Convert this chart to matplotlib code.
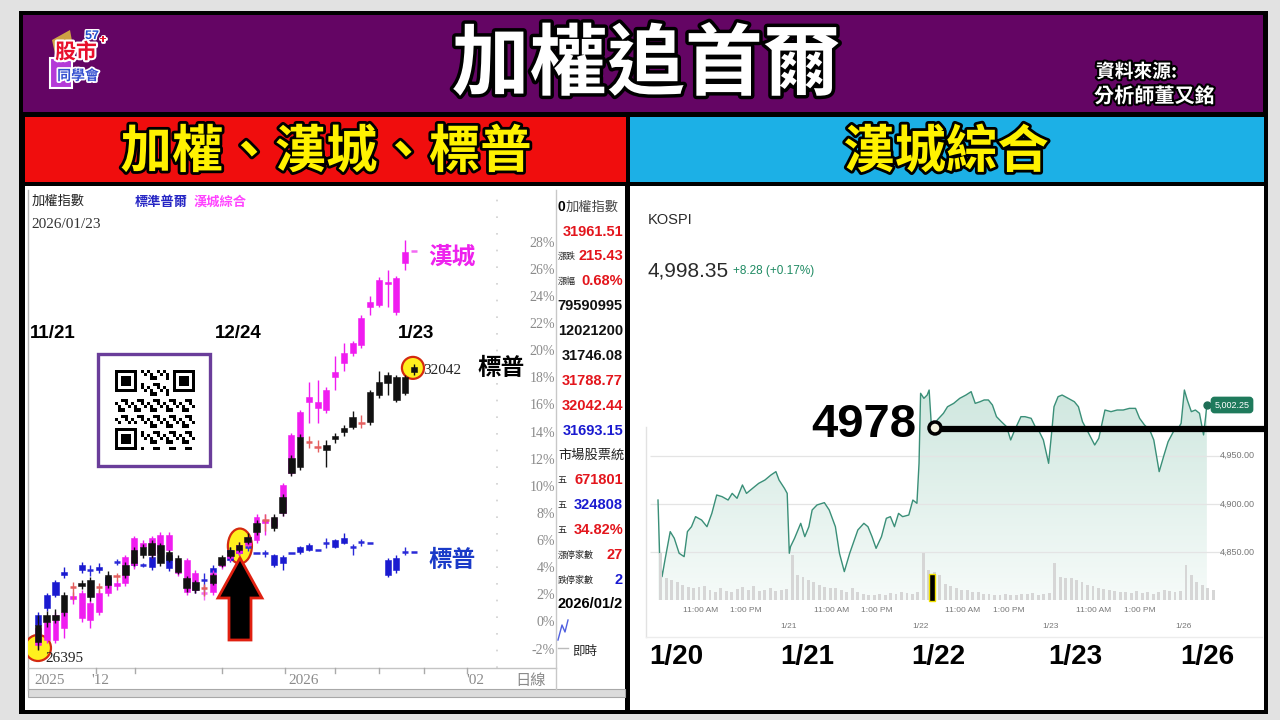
import numpy as np
import matplotlib
matplotlib.use('Agg')
import matplotlib.pyplot as plt
from matplotlib.patches import Rectangle, Ellipse, Polygon, Circle
import matplotlib.patheffects as pe
from matplotlib.colors import LinearSegmentedColormap

plt.rcParams['font.family'] = ['Noto Sans CJK TC', 'DejaVu Sans']
CJK = ['Noto Sans CJK TC', 'DejaVu Sans']
NARROW = ['Liberation Sans', 'DejaVu Sans']
SERIF = ['Liberation Serif', 'DejaVu Serif']
nan = np.nan

# ---------------- left chart: daily candles, % change ----------------
taiex_open = [-1.4, 0.05, 0.2, 0.8, 2.65, 2.7, 1.9, 2.65, 2.8, 3.45, 3.55, 4.4, 5.0, 5.0, 4.4, 4.65, 3.75, 2.6, 2.4, 2.6,
              2.95, 4.25, 4.95, 5.4, 6.0, 6.7, 7.6, 7.0, 8.1, 11.05, 11.5, 13.35, 13.0, 12.75, 13.55, 14.05, 14.45, 14.75,
              14.8, 16.8, 17.7, 16.45, 16.95, 18.5]
taiex_close = [-0.15, 0.6, 0.6, 2.05, 2.65, 2.95, 3.15, 2.65, 3.55, 3.45, 4.25, 5.4, 5.6, 5.9, 5.75, 5.2, 4.8, 3.3, 3.0, 2.6,
               3.55, 4.85, 5.4, 5.75, 6.35, 7.35, 7.6, 7.8, 9.3, 12.15, 13.7, 13.35, 13.0, 13.1, 13.8, 14.35, 15.2, 14.75,
               17.0, 17.75, 18.3, 18.15, 18.15, 18.85]
taiex_high = [0.6, 0.9, 1.0, 2.3, 3.0, 3.2, 3.4, 2.95, 3.8, 3.7, 4.5, 5.6, 5.8, 6.1, 5.9, 5.4, 5.0, 3.5, 3.2, 2.9,
              3.7, 5.0, 5.6, 6.0, 6.6, 7.6, 8.0, 8.0, 9.5, 12.4, 13.9, 13.8, 13.5, 13.5, 14.0, 14.6, 15.6, 15.3,
              17.2, 18.6, 18.5, 18.3, 18.3, 19.1]
taiex_low = [-2.0, -0.3, 0.0, 0.5, 1.7, 2.5, 1.6, 2.2, 2.6, 3.1, 3.3, 4.2, 4.8, 4.8, 4.2, 4.5, 3.6, 2.3, 2.2, 2.0,
             2.8, 4.1, 4.8, 5.2, 5.8, 6.5, 6.8, 6.8, 7.9, 10.8, 11.3, 12.9, 12.6, 11.5, 13.3, 13.8, 14.3, 14.4,
             14.6, 16.6, 16.8, 16.3, 16.8, 18.3]

kospi_open = [-1.6, -1.25, -1.25, -0.35, 1.75, 0.35, 0.2, 0.8, 2.2, 2.7, 2.95, 4.25, 5.6, 5.0, 5.15, 5.4, 3.7, 2.3, 2.4, 2.2,
              2.3, 4.2, 4.8, 5.15, 5.75, 6.1, 7.35, 7.15, 8.1, 11.05, 13.7, 16.3, 15.85, 15.7, 18.15, 19.15, 19.9, 20.5,
              23.3, 23.45, 25.0, 22.9, 26.5, 27.4]
kospi_close = [-0.35, 0.05, 0.6, 0.8, 2.0, 2.2, 1.45, 2.2, 2.8, 2.95, 4.85, 6.25, 5.9, 6.25, 6.5, 6.5, 4.65, 4.65, 3.7, 2.2,
               3.7, 4.65, 5.15, 5.75, 6.35, 7.8, 7.6, 7.75, 10.15, 13.85, 15.55, 16.65, 16.3, 17.2, 18.5, 19.9, 20.6, 22.5,
               23.65, 25.3, 25.1, 25.4, 27.35, 27.4]
kospi_high = [0.0, 0.3, 0.8, 1.0, 2.3, 2.4, 1.7, 2.4, 3.0, 3.2, 5.0, 6.4, 6.1, 6.4, 6.7, 6.7, 4.8, 4.8, 3.9, 2.8,
              3.9, 4.8, 5.3, 6.0, 6.5, 8.0, 8.0, 7.9, 10.3, 14.0, 15.7, 17.75, 17.9, 17.4, 19.7, 20.6, 20.8, 22.7,
              24.1, 25.5, 26.0, 25.6, 28.2, 27.4]
kospi_low = [-1.9, -1.5, -1.5, -1.1, 1.4, 0.1, -0.35, 0.6, 2.0, 2.4, 2.7, 4.0, 5.4, 4.8, 5.0, 5.2, 3.5, 2.1, 2.2, 1.7,
             2.1, 4.0, 4.6, 5.0, 5.6, 5.9, 6.5, 7.0, 7.9, 10.9, 13.5, 14.75, 14.75, 15.5, 17.2, 18.6, 19.7, 20.3,
             22.7, 23.3, 23.3, 22.7, 26.0, 27.4]

sp_open = [-0.15, 1.1, 2.05, 3.55, nan, 3.9, 3.9, 3.9, 2.8, 4.5, nan, 4.25, 4.25, 4.1, nan, 4.05, nan, nan, 2.4, 3.15,
           3.75, nan, 4.65, 5.15, 5.6, 5.15, 5.15, 4.25, 4.4, 5.15, 5.25, 5.4, 5.4, 5.9, 5.6, 5.9, 5.6, 5.95,
           5.9, nan, 3.55, 3.9, 5.25, 5.25]
sp_close = [0.6, 2.05, 3.0, 3.75, nan, 4.25, 3.9, 4.1, 3.4, 4.5, nan, 4.85, 4.25, 4.85, nan, 5.0, nan, nan, 2.8, 3.15,
            4.05, nan, 5.4, 5.3, 5.6, 5.15, 5.15, 5.0, 4.85, 5.15, 5.6, 5.75, 5.4, 5.9, 6.1, 6.25, 5.6, 5.95,
            5.9, nan, 4.65, 4.8, 5.25, 5.25]
sp_high = [0.8, 2.2, 3.2, 4.1, nan, 4.5, 4.3, 4.4, 3.6, 4.7, nan, 5.0, 4.4, 5.0, nan, 5.2, nan, nan, 3.0, 3.7,
           4.3, nan, 5.6, 5.5, 5.8, 5.15, 5.4, 5.1, 5.0, 5.15, 5.7, 5.9, 5.4, 6.3, 6.2, 6.6, 5.8, 6.2,
           5.9, nan, 4.8, 5.0, 5.6, 5.25]
sp_low = [-0.3, 0.9, 1.9, 3.3, nan, 3.7, 3.5, 3.7, 2.6, 4.3, nan, 4.1, 4.1, 3.9, nan, 3.8, nan, nan, 2.2, 2.1,
          3.6, nan, 4.5, 5.0, 5.3, 5.15, 4.9, 4.1, 3.9, 5.15, 5.1, 5.3, 5.4, 5.5, 5.5, 5.8, 5.0, 5.7,
          5.9, nan, 3.4, 3.7, 5.0, 5.25]

pct_ticks = [-2, 0, 2, 4, 6, 8, 10, 12, 14, 16, 18, 20, 22, 24, 26, 28]

panel_rows = [('', '31961.51', '#e3151c'), ('漲跌', '215.43', '#e3151c'), ('漲幅', '0.68%', '#e3151c'),
              ('', '79590995', '#111111'), ('', '12021200', '#111111'), ('', '31746.08', '#111111'),
              ('', '31788.77', '#e3151c'), ('', '32042.44', '#e3151c'), ('', '31693.15', '#1a1ad0'),
              ('市場股票統', '', '#111111'), ('五', '671801', '#e3151c'), ('五', '324808', '#1a1ad0'),
              ('五', '34.82%', '#e3151c'), ('漲停家數', '27', '#e3151c'), ('跌停家數', '2', '#1a1ad0')]

# ---------------- right chart: KOSPI intraday ----------------
kospi_t = [0.000, 0.012, 0.031, 0.053, 0.093, 0.124, 0.161, 0.199, 0.224, 0.255, 0.286, 0.332, 0.373, 0.410, 0.447,
           0.488, 0.534, 0.565, 0.602, 0.643, 0.674, 0.720, 0.767, 0.814, 0.860, 0.898, 0.922, 0.963, 0.984,
           1.000, 1.009, 1.040, 1.087, 1.118, 1.149, 1.174, 1.211, 1.267, 1.304, 1.351, 1.382, 1.419, 1.460, 1.522,
           1.568, 1.599, 1.630, 1.661, 1.702, 1.739, 1.770, 1.801, 1.832, 1.863, 1.910, 1.941, 1.972, 1.988,
           2.000, 2.025, 2.050, 2.065, 2.081, 2.096, 2.127, 2.174, 2.205, 2.252, 2.298, 2.345, 2.385, 2.416, 2.453,
           2.484, 2.516, 2.547, 2.578, 2.615, 2.655, 2.686, 2.717, 2.764, 2.795, 2.842, 2.873, 2.904, 2.935, 2.975,
           3.000, 3.016, 3.047, 3.078, 3.124, 3.171, 3.202, 3.233, 3.280, 3.326, 3.357, 3.404, 3.450, 3.497, 3.543,
           3.590, 3.637, 3.668, 3.705, 3.745, 3.776, 3.817, 3.854, 3.885, 3.932, 3.963, 3.984,
           4.009, 4.031, 4.062, 4.093, 4.124, 4.155, 4.171, 4.180]
kospi_p = [4904.1, 4849.0, 4824.8, 4842.0, 4871.4, 4864.5, 4849.0, 4845.5, 4871.4, 4876.5, 4886.9, 4883.4, 4876.5,
           4890.3, 4909.3, 4907.6, 4904.1, 4911.0, 4905.9, 4919.7, 4911.0, 4916.2, 4921.4, 4924.8, 4930.0, 4933.5,
           4924.8, 4916.2, 4911.0,
           4849.0, 4855.8, 4864.5, 4880.0, 4866.2, 4876.5, 4893.8, 4899.0, 4901.4, 4893.8, 4876.5, 4849.0, 4830.0,
           4849.0, 4873.1, 4880.0, 4876.5, 4866.2, 4854.1, 4866.2, 4885.2, 4886.9, 4876.5, 4890.3, 4886.9, 4888.6,
           4904.1, 4900.7, 4942.1,
           5014.6, 5009.4, 5012.8, 5018.0, 4983.5, 4976.6, 4987.0, 4993.9, 5000.7, 5004.2, 5009.4, 5012.8, 5016.3,
           5004.2, 5005.9, 5007.7, 5007.7, 5002.5, 4990.4, 4985.2, 4980.0, 4966.3, 4976.6, 4990.4, 4990.4, 4988.7,
           4980.0, 4974.9, 4966.3, 4942.1,
           4976.6, 5000.7, 5011.1, 5012.8, 5009.4, 5005.9, 5000.7, 4985.2, 4973.2, 4961.1, 4968.0, 4997.3, 4995.6,
           4997.3, 4997.3, 4999.0, 4999.0, 4988.7, 4981.8, 4976.6, 4966.3, 4933.5, 4950.7, 4964.5, 4976.6, 4978.3,
           4983.5,
           5018.0, 5007.7, 4995.6, 4997.3, 4993.9, 4971.5, 4990.4, 5002.5]
vol_days = [
    [47, 22, 20, 18, 15, 13, 12, 13, 14, 10, 8, 12, 9, 8, 11, 13, 10, 14, 9, 10, 12, 9, 10, 11],
    [45, 25, 23, 20, 18, 15, 13, 12, 12, 10, 8, 12, 8, 6, 5, 5, 6, 5, 7, 6, 8, 7, 6, 8],
    [47, 30, 28, 25, 16, 14, 12, 10, 10, 8, 8, 6, 6, 5, 5, 6, 5, 5, 6, 6, 7, 5, 6, 7],
    [37, 23, 22, 22, 20, 18, 15, 14, 12, 11, 10, 9, 8, 8, 7, 9, 7, 8, 6, 8, 10, 9, 8, 9],
    [35, 25, 18, 15, 12, 10],
]
price_ticks = [4950, 4900, 4850]
big_dates = ['1/20', '1/21', '1/22', '1/23', '1/26']
small_dates = ['1/21', '1/22', '1/23', '1/26']
level_4978 = 4978

W, H = 1280, 720
fig = plt.figure(figsize=(12.8, 7.2), dpi=100)
fig.patch.set_facecolor('#e2e2e2')


def px_axes(x0, y0, x1, y1, z):
    a = fig.add_axes([x0 / W, 1 - y1 / H, (x1 - x0) / W, (y1 - y0) / H])
    a.set_zorder(z)
    a.axis('off')
    return a


# ---------------- background frames ----------------
bg = px_axes(0, 0, W, H, 0)
bg.set_xlim(0, W); bg.set_ylim(H, 0)
bg.add_patch(Rectangle((19, 11), 1249, 703, fc='black', ec='none'))
bg.add_patch(Rectangle((23, 15), 1240, 97, fc='#640564', ec='none'))
bg.add_patch(Rectangle((25, 117), 601, 65, fc='#f00d0d', ec='none'))
bg.add_patch(Rectangle((630, 117), 634, 65, fc='#1cb0e6', ec='none'))
bg.add_patch(Rectangle((25, 186), 600, 524, fc='white', ec='none'))
bg.add_patch(Rectangle((630, 186), 634, 524, fc='white', ec='none'))
bg.plot([28, 28], [190, 690], color='#b5b5b5', lw=1)
bg.plot([28, 556], [668, 668], color='#c4c4c4', lw=1)
bg.add_patch(Rectangle((28, 689), 597, 8, fc='#dcdcdc', ec='#a8a8a8', lw=0.8))
bg.plot([556, 556], [190, 689], color='#c8c8c8', lw=1)
bg.plot([646, 646], [427, 637], color='#e2e2e2', lw=1)
bg.plot([646, 1262], [637, 637], color='#ececec', lw=1)

# ---------------- left candle chart ----------------
ax = px_axes(28, 190, 555, 668, 1)
x_lo, x_hi = (28 - 38) / 8.74, (555 - 38) / 8.74
y_lo, y_hi = (623 - 668) / 13.57, (623 - 190) / 13.57


def candles(o, c, h, l, col, doji_col, width, z):
    for i in range(len(o)):
        if np.isnan(o[i]):
            continue
        lo_, hi_ = min(o[i], c[i]), max(o[i], c[i])
        if h[i] > l[i]:
            ax.vlines(i, l[i], h[i], colors=col if hi_ - lo_ > 0.01 else doji_col, lw=1.0, zorder=z)
        if hi_ - lo_ > 0.01:
            ax.add_patch(Rectangle((i - width / 2, lo_), width, hi_ - lo_, fc=col, ec=col, lw=0.4, zorder=z))
        else:
            ax.hlines(hi_, i - width / 2, i + width / 2, colors=doji_col, lw=1.8, zorder=z)


ax.vlines((497 - 38) / 8.74, y_lo, y_hi, colors='#cfcfcf', lw=1.2, linestyles=(0, (1, 9)), zorder=0.5)
ax.add_patch(Ellipse((0, -1.84), 2.97, 1.92, fc='#fff01e', ec='#d42a10', lw=1.6, zorder=1))
ax.add_patch(Ellipse((23.1, 5.67), 2.75, 2.58, fc='#fff01e', ec='#d42a10', lw=1.6, zorder=1))
ax.add_patch(Ellipse((42.9, 18.8), 2.52, 1.62, fc='#fff01e', ec='#d42a10', lw=1.6, zorder=1))
candles(sp_open, sp_close, sp_high, sp_low, '#1a1ad0', '#2a2ad8', 0.7, 2)
candles(kospi_open, kospi_close, kospi_high, kospi_low, '#f01cf0', '#f36af3', 0.68, 3)
candles(taiex_open, taiex_close, taiex_high, taiex_low, '#111111', '#e46060', 0.75, 4)
for v in pct_ticks:
    ax.text(x_hi, v, f'{v}%', ha='right', va='center', fontsize=10, color='#8a8a8a', family=SERIF)
ax.set_xlim(x_lo, x_hi)
ax.set_ylim(y_lo, y_hi)

# ---------------- right KOSPI chart ----------------
t_lo, t_hi = (645 - 658) / 131.3, (1262 - 658) / 131.3
p_lo, p_hi = 4900 - 96 / 0.966, 4900 + 119 / 0.966
rx = px_axes(645, 385, 1262, 600, 1)
coll = rx.fill_between(kospi_t, kospi_p, p_lo, facecolor='none', edgecolor='none')
cmap = LinearSegmentedColormap.from_list('g', ['#f6fbf9', '#cfe7df'])
img = rx.imshow(np.linspace(0, 1, 256).reshape(-1, 1), extent=[-0.05, 4.3, p_lo, 5020], origin='lower',
                aspect='auto', cmap=cmap, zorder=0.5)
img.set_clip_path(coll.get_paths()[0], transform=rx.transData)
rx.hlines(price_ticks, -0.06, 4.35, colors='#e4e4e4', lw=0.9, zorder=1)
rx.plot(kospi_t, kospi_p, color='#3a8f78', lw=1.0, zorder=3)
rx.plot([kospi_t[-1], 4.24], [kospi_p[-1], kospi_p[-1]], ':', color='#1f6e56', lw=0.9, zorder=3)
rx.plot(kospi_t[-1], kospi_p[-1], 'o', ms=5, color='#1f6e56', zorder=4)
rx.set_xlim(t_lo, t_hi)
rx.set_ylim(p_lo, p_hi)

vx = px_axes(645, 540, 1262, 600, 1.5)
for d, vols in enumerate(vol_days):
    pos = [d + j / 24 + 0.01 for j in range(len(vols))]
    vx.bar(pos, vols, width=0.022, color='#d6d6d6', align='edge', zorder=1)
vx.set_xlim(t_lo, t_hi)
vx.set_ylim(0, 60)

# ---------------- overlay texts & annotations ----------------
ov = px_axes(0, 0, W, H, 5)
stroke = lambda w, c='black': [pe.withStroke(linewidth=w, foreground=c)]

ov.text(646, 66, '加權追首爾', ha='center', va='center', fontsize=56, color='white', weight='heavy',
        family=CJK, path_effects=stroke(5))
# logo
ov.add_patch(Rectangle((50, 58), 22, 30, fc='#b43ad8', ec='white', lw=1.5))
ov.add_patch(Polygon([[52, 40], [70, 30], [74, 52], [56, 58]], closed=True, fc='#d9b440', ec='none', alpha=0.9))
ov.text(76, 52, '股市', ha='center', va='center', fontsize=15, color='#e8102c', weight='bold', family=CJK,
        path_effects=stroke(3, 'white'))
ov.text(92, 36, '57', ha='center', va='center', fontsize=9, color='#2050d0', weight='bold', family=NARROW,
        path_effects=stroke(2, 'white'))
ov.text(103, 40, '+', ha='center', va='center', fontsize=9, color='#e8102c', weight='bold',
        path_effects=stroke(2, 'white'))
ov.text(78, 76, '同學會', ha='center', va='center', fontsize=10, color='#3550d0', weight='bold', family=CJK,
        path_effects=stroke(2.5, 'white'))
ov.text(1096, 72, '資料來源:', ha='left', va='center', fontsize=13.5, color='white', weight='bold',
        family=CJK, path_effects=stroke(3))
ov.text(1094, 96, '分析師董又銘', ha='left', va='center', fontsize=14.5, color='white', weight='bold',
        family=CJK, path_effects=stroke(3))

ov.text(326, 152, '加權、漢城、標普', ha='center', va='center', fontsize=37, color='#fff200', weight='heavy',
        family=CJK, path_effects=stroke(4))
ov.text(946, 152, '漢城綜合', ha='center', va='center', fontsize=37, color='#fff200', weight='heavy',
        family=CJK, path_effects=stroke(4))

# left chart annotations
ov.text(32, 201, '加權指數', ha='left', va='center', fontsize=9.5, color='#222', family=CJK)
ov.text(31, 225, '2026/01/23', ha='left', va='center', fontsize=11, color='#333', family=SERIF)
ov.text(135, 202, '標準普爾', ha='left', va='center', fontsize=9.5, color='#2626c4', family=CJK, weight='bold')
ov.text(194, 202, '漢城綜合', ha='left', va='center', fontsize=9.5, color='#ff44ff', family=CJK, weight='bold')
for x, s in [(30, '11/21'), (215, '12/24'), (398, '1/23')]:
    ov.text(x, 333, s, ha='left', va='center', fontsize=13.5, weight='bold', color='black', family=NARROW)
ov.text(45, 659, '26395', ha='left', va='center', fontsize=11, color='#222', family=SERIF)
ov.text(423, 371, '32042', ha='left', va='center', fontsize=11, color='#222', family=SERIF)
ov.text(452, 257, '漢城', ha='center', va='center', fontsize=17, color='#ee22ee', weight='heavy', family=CJK)
ov.text(501, 368, '標普', ha='center', va='center', fontsize=17, color='black', weight='heavy', family=CJK)
ov.text(452, 560, '標普', ha='center', va='center', fontsize=17, color='#1a3ac8', weight='heavy', family=CJK)
for x, s in [(50, '2025'), (100, "'12"), (304, '2026'), (475, "'02"), (531, '日線')]:
    ov.text(x, 680, s, ha='center', va='center', fontsize=11, color='#8a8a8a',
            family=SERIF if s != '日線' else CJK)
for x in [96, 135, 222, 285, 335, 379, 424, 467]:
    ov.plot([x, x], [668, 673], color='#aaaaaa', lw=1)

# QR code box
ov.add_patch(Rectangle((98, 354), 112, 112, fc='white', ec='#6a3d9a', lw=2.4))
n = 25
ii, jj = np.mgrid[0:n, 0:n]
qr = (((ii * ii * 3 + jj * 7 + ii * jj) % 5) < 2).astype(float)
for (r0, c0) in [(0, 0), (0, n - 7), (n - 7, 0)]:
    qr[max(r0 - 1, 0):r0 + 8, max(c0 - 1, 0):c0 + 8] = 0
    qr[r0:r0 + 7, c0:c0 + 7] = 1
    qr[r0 + 1:r0 + 6, c0 + 1:c0 + 6] = 0
    qr[r0 + 2:r0 + 5, c0 + 2:c0 + 5] = 1
ov.imshow(qr, extent=(115, 195, 450, 370), cmap='gray_r', aspect='auto', interpolation='nearest', zorder=2)

# arrow
ov.add_patch(Polygon([[240, 558], [262, 598], [251, 598], [251, 640], [229, 640], [229, 598], [218, 598]],
                     closed=True, fc='black', ec='#e02010', lw=2, zorder=3))

# data panel (right of left chart)
clip_rect = Rectangle((557, 190), 68, 520, transform=ov.transData, fc='none', ec='none')
ov.add_patch(clip_rect)
t0 = ov.text(558, 207, '0', ha='left', va='center', fontsize=10, weight='bold', color='black', family=NARROW)
t1 = ov.text(566, 207, '加權指數', ha='left', va='center', fontsize=9.5, color='#444', family=CJK)
for tt in (t0, t1):
    tt.set_clip_path(clip_rect)
for k, (pre, val, col) in enumerate(panel_rows):
    y = 231.5 + k * 24.9
    if pre:
        tp = ov.text(558, y, pre, ha='left', va='center', fontsize=6.5 if val else 9.5, color='#222', family=CJK)
        tp.set_clip_path(clip_rect)
    if val:
        tv = ov.text(623, y, val, ha='right', va='center', fontsize=10.5, weight='bold', color=col, family=NARROW)
        tv.set_clip_path(clip_rect)
td = ov.text(558, 604, '2026/01/2', ha='left', va='center', fontsize=10.5, weight='bold', color='black',
             family=NARROW)
td.set_clip_path(clip_rect)
ov.plot([558, 562, 565, 568], [640, 625, 632, 620], color='#5060e0', lw=1)
ov.plot([558, 568], [648, 648], color='#bbbbbb', lw=1)
ov.text(572, 652, '即時', ha='left', va='center', fontsize=9, color='#222', family=CJK)

# right panel texts
ov.text(648, 220, 'KOSPI', ha='left', va='center', fontsize=10.5, color='#2a2a2a', family=NARROW)
ov.text(647, 271, '4,998.35', ha='left', va='center', fontsize=15, color='#2a2a2a', family=NARROW)
ov.text(733, 271, '+8.28 (+0.17%)', ha='left', va='center', fontsize=8.5, color='#1e8a62', family=NARROW)
for y, v in zip([455, 504, 552], price_ticks):
    ov.text(1237, y, f'{v:,.2f}', ha='center', va='center', fontsize=6.5, color='#777777', family=NARROW)
for x in [701, 832, 963, 1094]:
    ov.text(x, 611, '11:00 AM', ha='center', va='center', fontsize=6, color='#777777', family=NARROW)
for x in [746, 877, 1009, 1140]:
    ov.text(x, 611, '1:00 PM', ha='center', va='center', fontsize=6, color='#777777', family=NARROW)
for x, s in zip([789, 921, 1051, 1184], small_dates):
    ov.text(x, 627, s, ha='center', va='center', fontsize=6, color='#777777', family=NARROW)
for x, s in zip([676, 807, 938, 1075, 1207], big_dates):
    ov.text(x, 657, s, ha='center', va='center', fontsize=20, weight='bold', color='black', family=NARROW)
ov.text(1232, 405, '5,002.25', ha='center', va='center', fontsize=6.5, color='white', family=NARROW,
        bbox=dict(boxstyle='round,pad=0.35', fc='#1f7a5c', ec='#1f7a5c'))
ov.text(916, 425, f'{level_4978}', ha='right', va='center', fontsize=34, weight='bold', color='black',
        family=NARROW)
ov.plot([940, 1266], [429, 429], color='black', lw=4.5, solid_capstyle='butt')
ov.add_patch(Circle((935, 428), 6, fc='#f4f4e0', ec='black', lw=2.5, zorder=4))
ov.add_patch(Rectangle((929, 574), 6, 27, fc='black', ec='#f0e000', lw=1, zorder=4))

ov.set_xlim(0, W)
ov.set_ylim(H, 0)

fig.savefig('out.png', dpi=100)
